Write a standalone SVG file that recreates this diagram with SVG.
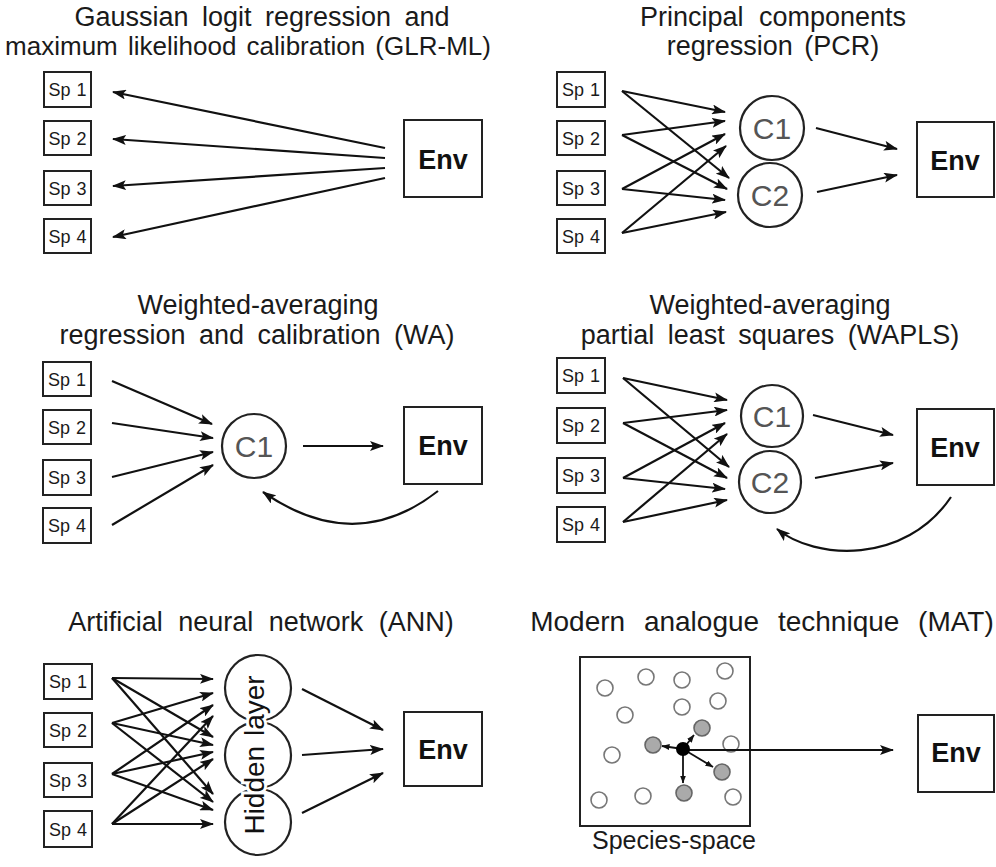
<svg xmlns="http://www.w3.org/2000/svg" width="996" height="867" viewBox="0 0 996 867">
<defs>
<marker id="ah" viewBox="0 0 14 10" refX="13" refY="5" markerWidth="14" markerHeight="10" markerUnits="userSpaceOnUse" orient="auto"><path d="M0,0 L14,5 L0,10 L3,5 z" fill="#111"/></marker>
<marker id="ahs" viewBox="0 0 8 6" refX="7.5" refY="3" markerWidth="8" markerHeight="6" markerUnits="userSpaceOnUse" orient="auto"><path d="M0,0 L8,3 L0,6 z" fill="#111"/></marker>
</defs>
<style>
text{font-family:"Liberation Sans",Arial,Helvetica,sans-serif;fill:#1a1a1a}
.title{font-size:27px;text-anchor:middle;word-spacing:6px}
.sp rect{fill:#fff;stroke:#222;stroke-width:2}
.sp text{font-size:18px;text-anchor:middle;word-spacing:1px}
.env rect{fill:#fff;stroke:#222;stroke-width:2}
.env text{font-size:27px;font-weight:bold;text-anchor:middle;fill:#111}
.comp circle{fill:#fff;stroke:#222;stroke-width:2.2}
.comp text{font-size:30px;text-anchor:middle;fill:#555}
.conn line,.conn path{stroke:#111;stroke-width:2.2;fill:none;marker-end:url(#ah)}
.small line{stroke:#111;stroke-width:1.8;marker-end:url(#ahs)}
.open{fill:#fff;stroke:#777;stroke-width:1.6}
.gray{fill:#aaa;stroke:#666;stroke-width:1.6}
</style>
<rect width="996" height="867" fill="#fff"/>

<!-- Titles -->
<g id="titles">
<text class="title" x="262" y="26">Gaussian logit regression and</text>
<text class="title" x="248" y="55" style="font-size:26px;word-spacing:3px">maximum likelihood calibration (GLR-ML)</text>
<text class="title" x="773" y="26" style="word-spacing:8px">Principal components</text>
<text class="title" x="773" y="55" style="word-spacing:4px">regression (PCR)</text>
<text class="title" x="258" y="314">Weighted-averaging</text>
<text class="title" x="257" y="344">regression and calibration (WA)</text>
<text class="title" x="770" y="314">Weighted-averaging</text>
<text class="title" x="770" y="344">partial least squares (WAPLS)</text>
<text class="title" x="261" y="631" style="word-spacing:8px">Artificial neural network (ANN)</text>
<text class="title" x="762" y="631" style="font-size:28px;word-spacing:11px">Modern analogue technique (MAT)</text>
</g>

<!-- Panel 1 GLR-ML -->
<g id="p1-sp1" class="sp"><rect x="44" y="72" width="47" height="35"/><text x="67.5" y="96">Sp 1</text></g>
<g id="p1-sp2" class="sp"><rect x="44" y="121" width="47" height="34"/><text x="67.5" y="145">Sp 2</text></g>
<g id="p1-sp3" class="sp"><rect x="44" y="171" width="47" height="34"/><text x="67.5" y="195">Sp 3</text></g>
<g id="p1-sp4" class="sp"><rect x="44" y="219" width="47" height="34"/><text x="67.5" y="243">Sp 4</text></g>
<g id="p1-env" class="env"><rect x="404" y="120" width="78" height="77"/><text x="443" y="169">Env</text></g>

<!-- Panel 2 PCR -->
<g id="p2-sp1" class="sp"><rect x="557" y="72" width="48" height="35"/><text x="581" y="96">Sp 1</text></g>
<g id="p2-sp2" class="sp"><rect x="557" y="121" width="48" height="34"/><text x="581" y="145">Sp 2</text></g>
<g id="p2-sp3" class="sp"><rect x="557" y="171" width="48" height="34"/><text x="581" y="195">Sp 3</text></g>
<g id="p2-sp4" class="sp"><rect x="557" y="219" width="48" height="34"/><text x="581" y="243">Sp 4</text></g>
<g id="p2-c1" class="comp"><circle cx="772" cy="128" r="32"/><text x="772" y="139">C1</text></g>
<g id="p2-c2" class="comp"><circle cx="770" cy="195" r="32"/><text x="770" y="206">C2</text></g>
<g id="p2-env" class="env"><rect x="917" y="122" width="77" height="75"/><text x="955" y="170">Env</text></g>

<!-- Panel 3 WA -->
<g id="p3-sp1" class="sp"><rect x="43" y="362" width="48" height="34"/><text x="67" y="386">Sp 1</text></g>
<g id="p3-sp2" class="sp"><rect x="43" y="410" width="48" height="34"/><text x="67" y="434">Sp 2</text></g>
<g id="p3-sp3" class="sp"><rect x="43" y="460" width="48" height="35"/><text x="67" y="484">Sp 3</text></g>
<g id="p3-sp4" class="sp"><rect x="43" y="508" width="48" height="35"/><text x="67" y="532">Sp 4</text></g>
<g id="p3-c1" class="comp"><circle cx="254" cy="446" r="32"/><text x="254" y="457">C1</text></g>
<g id="p3-env" class="env"><rect x="404" y="407" width="78" height="77"/><text x="443" y="455">Env</text></g>

<!-- Panel 4 WAPLS -->
<g id="p4-sp1" class="sp"><rect x="557" y="358" width="48" height="35"/><text x="581" y="382">Sp 1</text></g>
<g id="p4-sp2" class="sp"><rect x="557" y="408" width="48" height="35"/><text x="581" y="432">Sp 2</text></g>
<g id="p4-sp3" class="sp"><rect x="557" y="458" width="48" height="35"/><text x="581" y="482">Sp 3</text></g>
<g id="p4-sp4" class="sp"><rect x="557" y="507" width="48" height="35"/><text x="581" y="531">Sp 4</text></g>
<g id="p4-c1" class="comp"><circle cx="772" cy="416" r="31"/><text x="772" y="427">C1</text></g>
<g id="p4-c2" class="comp"><circle cx="770" cy="482" r="31"/><text x="770" y="493">C2</text></g>
<g id="p4-env" class="env"><rect x="917" y="409" width="77" height="76"/><text x="955" y="457">Env</text></g>

<!-- Panel 5 ANN -->
<g id="p5-sp1" class="sp"><rect x="44" y="664" width="48" height="35"/><text x="68" y="688">Sp 1</text></g>
<g id="p5-sp2" class="sp"><rect x="44" y="713" width="48" height="34"/><text x="68" y="737">Sp 2</text></g>
<g id="p5-sp3" class="sp"><rect x="44" y="763" width="48" height="34"/><text x="68" y="787">Sp 3</text></g>
<g id="p5-sp4" class="sp"><rect x="44" y="811" width="48" height="36"/><text x="68" y="836">Sp 4</text></g>
<g id="p5-hidden" class="comp">
<circle cx="258" cy="688" r="33"/>
<circle cx="258" cy="755" r="33"/>
<circle cx="258" cy="822" r="33"/>
<text transform="translate(264,755) rotate(-90)" x="0" y="0" style="fill:#111;stroke:#fff;stroke-width:6px;paint-order:stroke;font-size:28px;word-spacing:2px">Hidden layer</text>
</g>
<g id="p5-env" class="env"><rect x="404" y="712" width="78" height="74"/><text x="443" y="759">Env</text></g>

<!-- Panel 6 MAT -->
<g id="p6-space">
<rect x="580" y="657" width="170" height="169" fill="#fff" stroke="#222" stroke-width="2"/>
<circle class="open" cx="605" cy="688" r="8"/>
<circle class="open" cx="646" cy="677" r="8"/>
<circle class="open" cx="682" cy="680" r="8"/>
<circle class="open" cx="725" cy="671" r="8"/>
<circle class="open" cx="625" cy="715" r="8"/>
<circle class="open" cx="682" cy="707" r="8"/>
<circle class="open" cx="718" cy="701" r="8"/>
<circle class="open" cx="612" cy="755" r="8"/>
<circle class="open" cx="731" cy="744" r="8"/>
<circle class="open" cx="599" cy="800" r="8"/>
<circle class="open" cx="643" cy="796" r="8"/>
<circle class="open" cx="733" cy="797" r="8"/>
<circle class="gray" cx="702" cy="728" r="8"/>
<circle class="gray" cx="653" cy="745" r="8"/>
<circle class="gray" cx="722" cy="772" r="8"/>
<circle class="gray" cx="684" cy="793" r="8"/>
<text x="674" y="849" style="font-size:25px;text-anchor:middle">Species-space</text>
</g>
<g id="p6-env" class="env"><rect x="918" y="715" width="76" height="77"/><text x="956" y="762">Env</text></g>

<!-- Connectors -->
<g id="connectors" class="conn">
<line x1="385" y1="148" x2="113" y2="92"/>
<line x1="385" y1="158" x2="113" y2="139"/>
<line x1="385" y1="168" x2="113" y2="186"/>
<line x1="385" y1="178" x2="113" y2="237"/>

<line x1="622" y1="91" x2="725" y2="112"/>
<line x1="622" y1="91" x2="729" y2="178"/>
<line x1="622" y1="135" x2="725" y2="121"/>
<line x1="622" y1="135" x2="727" y2="189"/>
<line x1="622" y1="189" x2="725" y2="134"/>
<line x1="622" y1="189" x2="725" y2="200"/>
<line x1="622" y1="233" x2="726" y2="146"/>
<line x1="622" y1="233" x2="726" y2="212"/>
<line x1="816" y1="128" x2="897" y2="149"/>
<line x1="817" y1="192" x2="897" y2="175"/>

<line x1="112" y1="381" x2="212" y2="424"/>
<line x1="112" y1="423" x2="213" y2="438"/>
<line x1="112" y1="477" x2="213" y2="452"/>
<line x1="112" y1="525" x2="213" y2="465"/>
<line x1="303" y1="446" x2="383" y2="446"/>
<path d="M438,491 Q355,556 263,492"/>

<line x1="623" y1="378" x2="727" y2="400"/>
<line x1="623" y1="378" x2="729" y2="467"/>
<line x1="623" y1="423" x2="727" y2="410"/>
<line x1="623" y1="423" x2="727" y2="478"/>
<line x1="623" y1="478" x2="725" y2="423"/>
<line x1="623" y1="478" x2="725" y2="489"/>
<line x1="623" y1="522" x2="727" y2="434"/>
<line x1="623" y1="522" x2="727" y2="500"/>
<line x1="813" y1="415" x2="893" y2="435"/>
<line x1="815" y1="478" x2="893" y2="463"/>
<path d="M951,497 C905,565 815,560 777,529"/>

<line x1="112" y1="678" x2="213" y2="679"/>
<line x1="112" y1="678" x2="213" y2="737"/>
<line x1="112" y1="678" x2="213" y2="794"/>
<line x1="112" y1="723" x2="213" y2="693"/>
<line x1="112" y1="723" x2="213" y2="745"/>
<line x1="112" y1="723" x2="213" y2="802"/>
<line x1="112" y1="774" x2="213" y2="705"/>
<line x1="112" y1="774" x2="213" y2="752"/>
<line x1="112" y1="774" x2="213" y2="810"/>
<line x1="112" y1="824" x2="213" y2="716"/>
<line x1="112" y1="824" x2="213" y2="759"/>
<line x1="112" y1="824" x2="213" y2="824"/>
<line x1="302" y1="689" x2="383" y2="730"/>
<line x1="302" y1="755" x2="383" y2="749"/>
<line x1="302" y1="813" x2="383" y2="773"/>

<line x1="683" y1="750" x2="893" y2="750"/>
</g>
<g id="mat-small" class="small">
<line x1="683" y1="749" x2="662" y2="746"/>
<line x1="683" y1="749" x2="694" y2="735"/>
<line x1="683" y1="749" x2="713" y2="767"/>
<line x1="683" y1="749" x2="683" y2="783"/>
</g>
<g id="p6-query"><circle cx="683" cy="749" r="7" fill="#000"/></g>
</svg>
